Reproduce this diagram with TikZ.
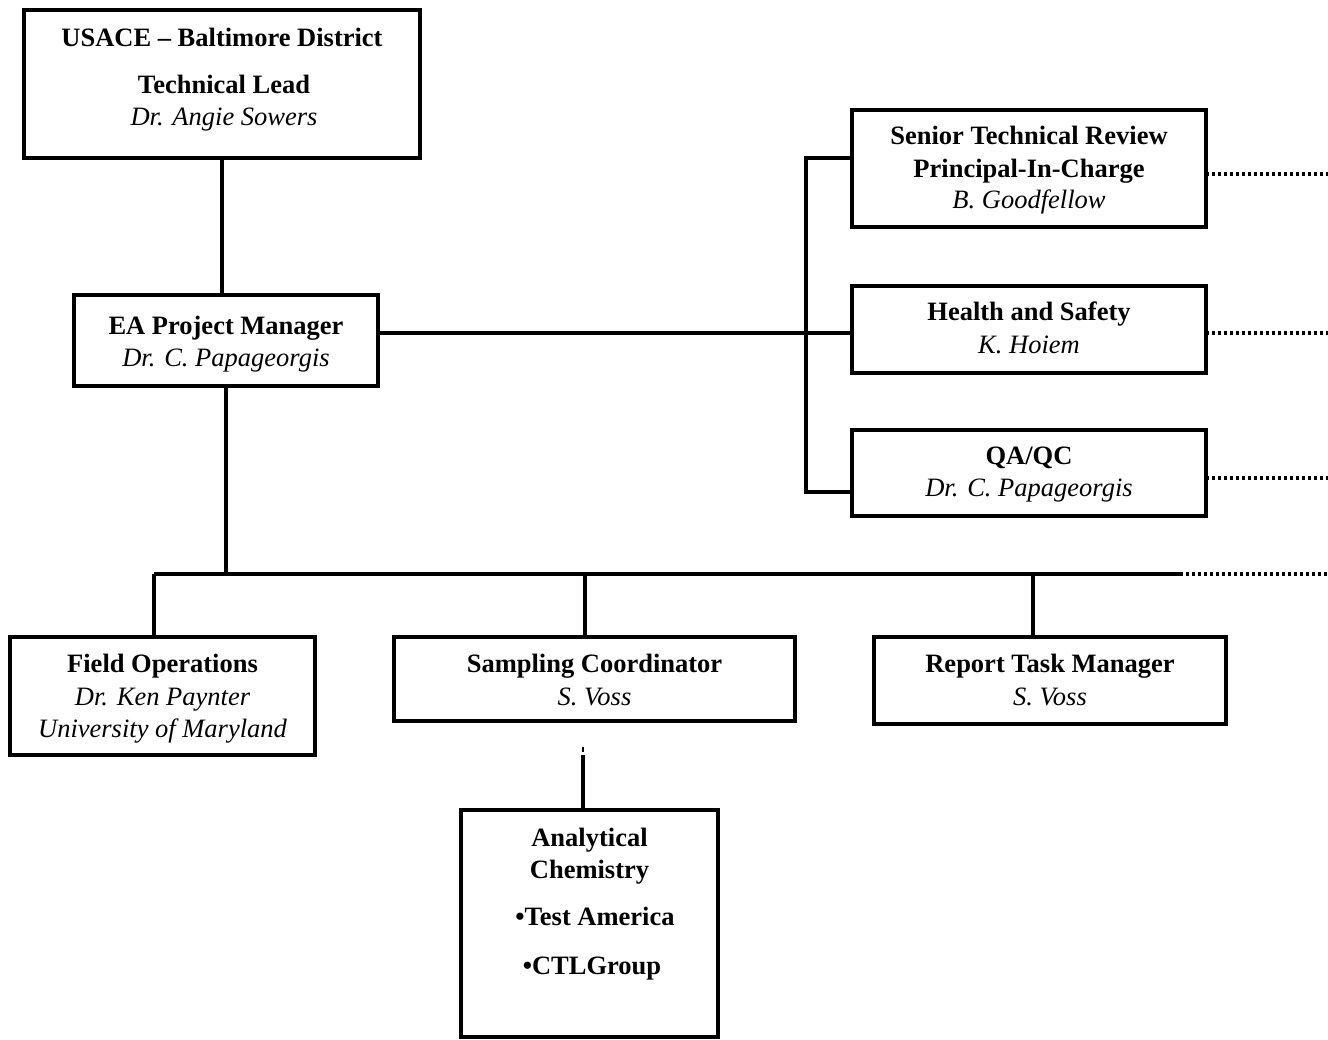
\documentclass[tikz,border=0pt]{standalone}
\usepackage{fontspec}
\setmainfont{Liberation Serif}
\begin{document}
\begin{tikzpicture}[x=1pt,y=-1pt,
  box/.style={draw, line width=4pt, inner sep=0pt, outer sep=0pt},
  conn/.style={line width=3.4pt},
  dotline/.style={line width=3.4pt, dash pattern=on 3pt off 3pt},
  bt/.style={font=\fontsize{26.5}{32}\selectfont\bfseries, anchor=base, inner sep=0pt},
  it/.style={font=\fontsize{26.5}{32}\selectfont\itshape, anchor=base, inner sep=0pt}]
\useasboundingbox (0,0) rectangle (1328,1039);
% boxes
\node[box, minimum width=396pt, minimum height=148pt] (usace) at (222,84) {};
\node[box, minimum width=304pt, minimum height=91pt] (ea) at (226,340.5) {};
\node[box, minimum width=354pt, minimum height=117pt] (senior) at (1029,168.5) {};
\node[box, minimum width=354pt, minimum height=87pt] (health) at (1029,329.5) {};
\node[box, minimum width=354pt, minimum height=86pt] (qa) at (1029,473) {};
\node[box, minimum width=305pt, minimum height=118pt] (field) at (162.5,696) {};
\node[box, minimum width=401pt, minimum height=84pt] (sampling) at (594.5,679) {};
\node[box, minimum width=352pt, minimum height=87pt] (report) at (1050,680.5) {};
\node[box, minimum width=257pt, minimum height=227pt] (anal) at (589.5,923.5) {};
% texts
\node[bt] (t1) at (222,46) {USACE – Baltimore District};
\node[bt] (t2) at (224,93) {Technical Lead};
\node[it] (t3) at (224,125) {Dr. Angie Sowers};
\node[bt] (t4) at (226,334) {EA Project Manager};
\node[it] (t5) at (226,366) {Dr. C. Papageorgis};
\node[bt] (t6) at (1029,144) {Senior Technical Review};
\node[bt] (t7) at (1029,177) {Principal-In-Charge};
\node[it] (t8) at (1029,208) {B. Goodfellow};
\node[bt] (t9) at (1029,320) {Health and Safety};
\node[it] (t10) at (1029,353) {K. Hoiem};
\node[bt] (t11) at (1029,464) {QA/QC};
\node[it] (t12) at (1029,496) {Dr. C. Papageorgis};
\node[bt] (t13) at (162.5,672) {Field Operations};
\node[it] (t14) at (162.5,705) {Dr. Ken Paynter};
\node[it] (t15) at (162.5,737) {University of Maryland};
\node[bt] (t16) at (594.5,672) {Sampling Coordinator};
\node[it] (t17) at (594.5,705) {S. Voss};
\node[bt] (t18) at (1050,672) {Report Task Manager};
\node[it] (t19) at (1050,705) {S. Voss};
\node[bt] (t20) at (589.5,846) {Analytical};
\node[bt] (t21) at (589.5,878) {Chemistry};
\node[bt] (t22) at (595,925) {•Test America};
\node[bt] (t23) at (592,974) {•CTLGroup};
% coordinates
\coordinate (m) at (378,333);
\coordinate (brT) at (806,158);
\coordinate (brB) at (806,492);
\coordinate (bus) at (226,574);
\coordinate (busL) at (154,574);
\coordinate (busS) at (585,574);
\coordinate (busR) at (1033,574);
\coordinate (busE) at (1180,574);
\coordinate (busEnd) at (1328,574);
\coordinate (e1) at (1328,174);
\coordinate (e2) at (1328,333);
\coordinate (e3) at (1328,478);
\coordinate (ac) at (583,755);
\coordinate (dotA) at (583,747);
\coordinate (dotB) at (583,751.5);
% connectors
\draw[conn] (usace.south) -- (usace.south |- ea.north);
\draw[conn] (ea.east |- m) -- (health.west |- m);
\draw[conn] (senior.west |- brT) -- (brT) -- (brB) -- (qa.west |- brB);
\draw[conn] (ea.south) -- (bus);
\draw[conn] (busL) -- (busE);
\draw[conn] (busL) -- (busL |- field.north);
\draw[conn] (busS) -- (busS |- sampling.north);
\draw[conn] (busR) -- (busR |- report.north);
\draw[dotline] (busE) -- (busEnd);
\draw[dotline] (senior.east |- e1) -- (e1);
\draw[dotline] (health.east |- e2) -- (e2);
\draw[dotline] (qa.east |- e3) -- (e3);
\draw[conn] (ac) -- (ac |- anal.north);
\draw[line width=2.5pt] (dotA) -- (dotB);
\end{tikzpicture}
\end{document}
